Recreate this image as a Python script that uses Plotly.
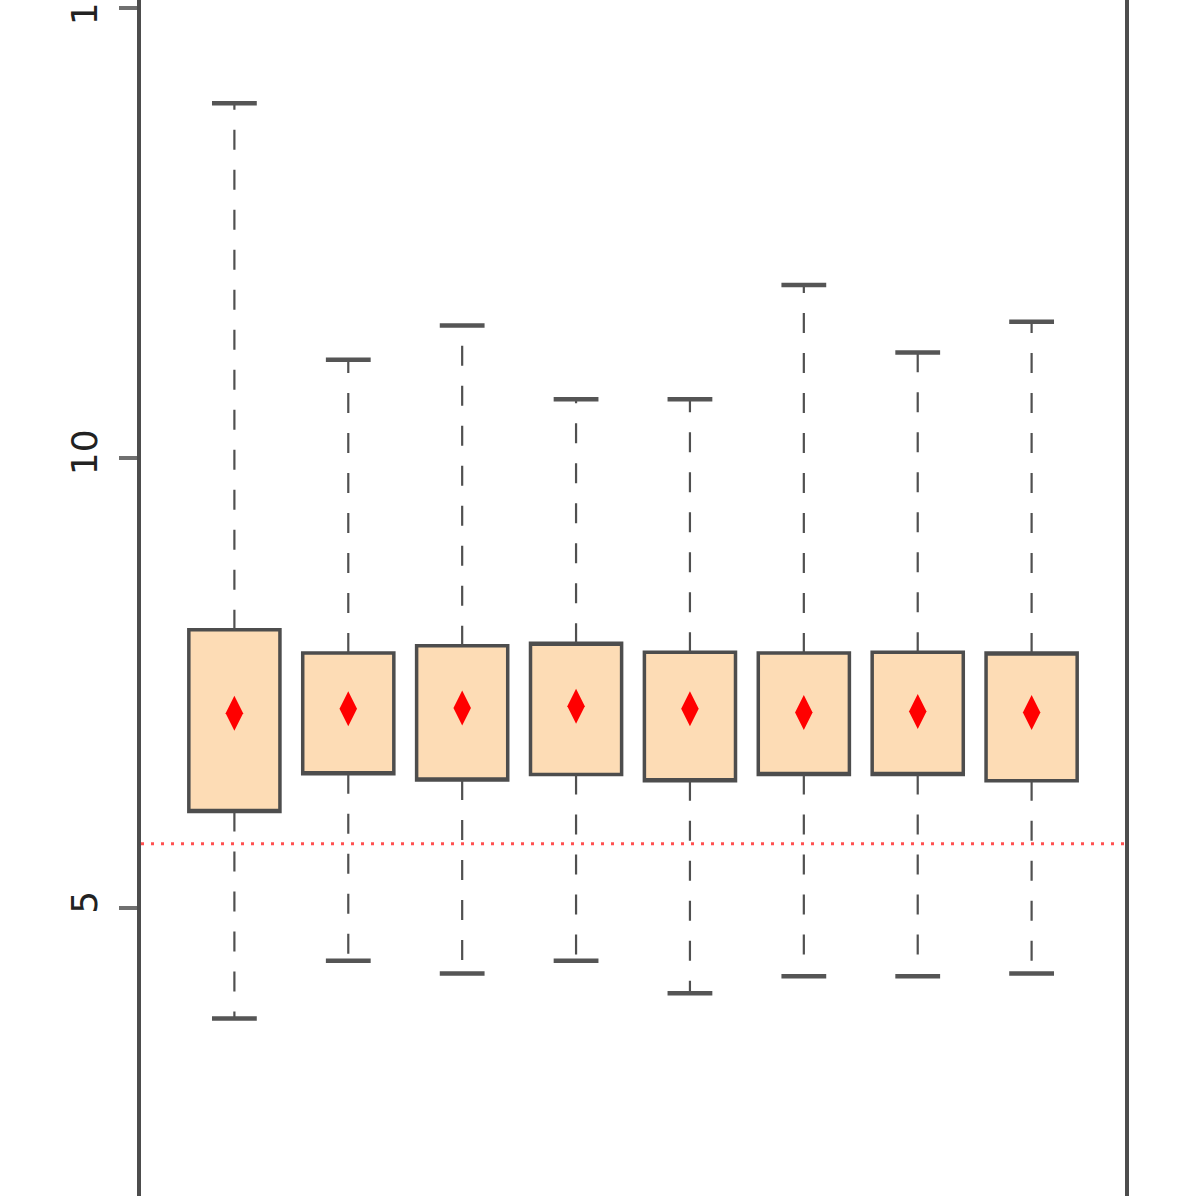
import plotly.graph_objects as go

groups = [1, 2, 3, 4, 5, 6, 7, 8]
upper_whisker = [13.94, 11.09, 11.47, 10.65, 10.65, 11.92, 11.17, 11.51]
q3_values = [8.09, 7.83, 7.91, 7.94, 7.84, 7.83, 7.84, 7.83]
median_values = [6.07, 6.49, 6.42, 7.94, 6.41, 6.48, 6.48, 7.83]
q1_values = [6.07, 6.49, 6.42, 6.48, 6.41, 6.48, 6.48, 6.41]
lower_whisker = [3.77, 4.41, 4.27, 4.41, 4.05, 4.24, 4.24, 4.27]
mean_values = [7.16, 7.21, 7.22, 7.24, 7.21, 7.17, 7.18, 7.17]
reference_line = 5.71
y_ticks = [5, 10, 15]
y_range = [1.797, 15.086]
x_range = [0.18, 8.82]

edge = "#4d4d4d"
fig = go.Figure()

# dashed whiskers
wx, wy = [], []
for g, q1, q3, lo, hi in zip(groups, q1_values, q3_values, lower_whisker, upper_whisker):
    wx += [g, g, None, g, g, None]
    wy += [q3, hi, None, q1, lo, None]
fig.add_trace(go.Scatter(x=wx, y=wy, mode="lines",
                         line=dict(color="#505050", width=2.2, dash="20px,20px"),
                         hoverinfo="skip", showlegend=False))

# whisker caps
fig.add_trace(go.Scatter(x=groups + groups, y=upper_whisker + lower_whisker, mode="markers",
                         marker=dict(symbol="line-ew", size=32,
                                     line=dict(color="#555555", width=4.5)),
                         hoverinfo="skip", showlegend=False))

fig.add_trace(go.Box(x=groups, q1=q1_values, median=median_values, q3=q3_values,
                     lowerfence=q1_values, upperfence=q3_values,
                     width=0.8, fillcolor="#FDDCB5",
                     line=dict(color=edge, width=3.5),
                     whiskerwidth=0, showlegend=False, hoverinfo="skip"))

fig.add_trace(go.Scatter(x=groups, y=mean_values, mode="markers",
                         marker=dict(symbol="diamond-tall", size=25, color="#FF0000",
                                     line=dict(width=0)),
                         hoverinfo="skip", showlegend=False))

fig.add_hline(y=reference_line, line=dict(color="rgba(255,50,50,0.85)", width=3, dash="3px,7px"))

fig.update_layout(
    width=1196, height=1196,
    margin=dict(l=141, r=71, t=0, b=0, autoexpand=False),
    plot_bgcolor="white", paper_bgcolor="white",
    showlegend=False,
    xaxis=dict(range=x_range, showgrid=False, zeroline=False, showline=False,
               showticklabels=False, ticks=""),
    yaxis=dict(range=y_range, tickvals=y_ticks, ticktext=[str(t) for t in y_ticks],
               showgrid=False, zeroline=False, showline=True, mirror=True,
               linecolor="#4d4d4d", linewidth=3.5,
               ticks="outside", ticklen=18, tickwidth=3.5, tickcolor="#707070",
               tickangle=-90, ticklabelstandoff=8, ticklabeloverflow="allow",
               tickfont=dict(family="DejaVu Sans", size=36, color="#222222")),
)

fig.write_html("out.html", config={"displayModeBar": False},
               post_script="document.body.style.margin='0';document.body.style.overflow='hidden';")
